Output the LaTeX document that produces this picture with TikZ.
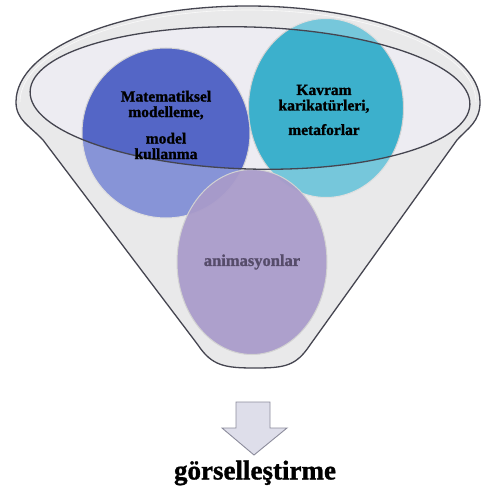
\documentclass[tikz,border=0pt]{standalone}
\usepackage{fontspec}
\setmainfont{Liberation Serif}
\newfontfamily\heavyserif[FakeBold=1.2]{Liberation Serif Bold}
\usetikzlibrary{shapes.geometric}

\definecolor{funnelgray}{HTML}{E0E0E2}
\definecolor{bowlgray}{HTML}{EDECF2}
\definecolor{rimline}{HTML}{454550}
\definecolor{bluefill}{HTML}{5466C6}
\definecolor{cyanfill}{HTML}{3CB0CC}
\definecolor{lilacfill}{HTML}{A99BCA}
\definecolor{lilactext}{HTML}{564C6A}
\definecolor{arrowfill}{HTML}{DEDEEA}
\definecolor{arrowline}{HTML}{8C8C9C}

% outline of the funnel: back rim arc, straight sides, rounded spout
\newcommand\funnelpath{%
  (16,102) arc[start angle=180, end angle=0, x radius=232pt, y radius=96pt]
  .. controls (480,122) and (468,128) .. (457,140)
  -- (310,345)
  .. controls (296,366) and (285,368) .. (255,368)
  .. controls (225,368) and (212,366) .. (198,345)
  -- (43,140)
  .. controls (30,126) and (16,120) .. cycle}

\tikzset{
  bubble/.style={ellipse, inner sep=0pt, draw=white!65!gray, line width=1pt},
  bubbletext/.style={align=center, font=\heavyserif\fontsize{15.5}{15.5}\selectfont, text=black},
}

\begin{document}
\begin{tikzpicture}[x=1pt, y=-1pt]
  \useasboundingbox[fill=white] (0,0) rectangle (483,495);

  % funnel body and the bowl seen through its mouth
  \fill[funnelgray] \funnelpath;
  \fill[bowlgray] (250,98) circle[x radius=220pt, y radius=71pt, rotate=-1.7];

  % the two upper bubbles
  \node[bubble, fill=bluefill, minimum width=168pt, minimum height=170pt] (math) at (166,133) {};
  \node[bubble, fill=cyanfill, minimum width=155pt, minimum height=179pt] (kavram) at (326,108) {};

  % translucent front wall of the funnel
  \fill[white, opacity=0.3, even odd rule] \funnelpath
    (250,98) circle[x radius=220pt, y radius=71pt, rotate=-1.7];

  % lower bubble inside the spout
  \node[bubble, fill=lilacfill, fill opacity=0.93, minimum width=150pt, minimum height=185pt] (anim) at (252,262) {};

  % rim of the mouth and funnel outline
  \draw[rimline, line width=1.3pt] (250,98) circle[x radius=220pt, y radius=71pt, rotate=-1.7];
  \draw[rimline, line width=1.3pt] \funnelpath;
  \draw[white, line width=0.6pt, opacity=0.8] (20,102) arc[start angle=180, end angle=0, x radius=228pt, y radius=92pt];

  % bubble labels
  \node[bubbletext] (mathtext) at (166,125) {Matematiksel\\modelleme,\\[11pt]model\\kullanma};
  \node[bubbletext] (kavramtext) at (324,110) {Kavram\\karikatürleri,\\[9pt]metaforlar};
  \node[font=\heavyserif\fontsize{16.5}{17}\selectfont, text=lilactext] (animtext) at (252,262) {animasyonlar};

  % output arrow and result
  \draw[arrowline, fill=arrowfill, line width=0.9pt, line join=miter]
    (236,402) -- (270,402) -- (270,428) -- (287,428) -- (254,455)
    -- (222,428) -- (236,428) -- cycle;
  \node[font=\heavyserif\fontsize{27}{30}\selectfont, text=black] (result) at (255,473) {görselleştirme};
\end{tikzpicture}
\end{document}
